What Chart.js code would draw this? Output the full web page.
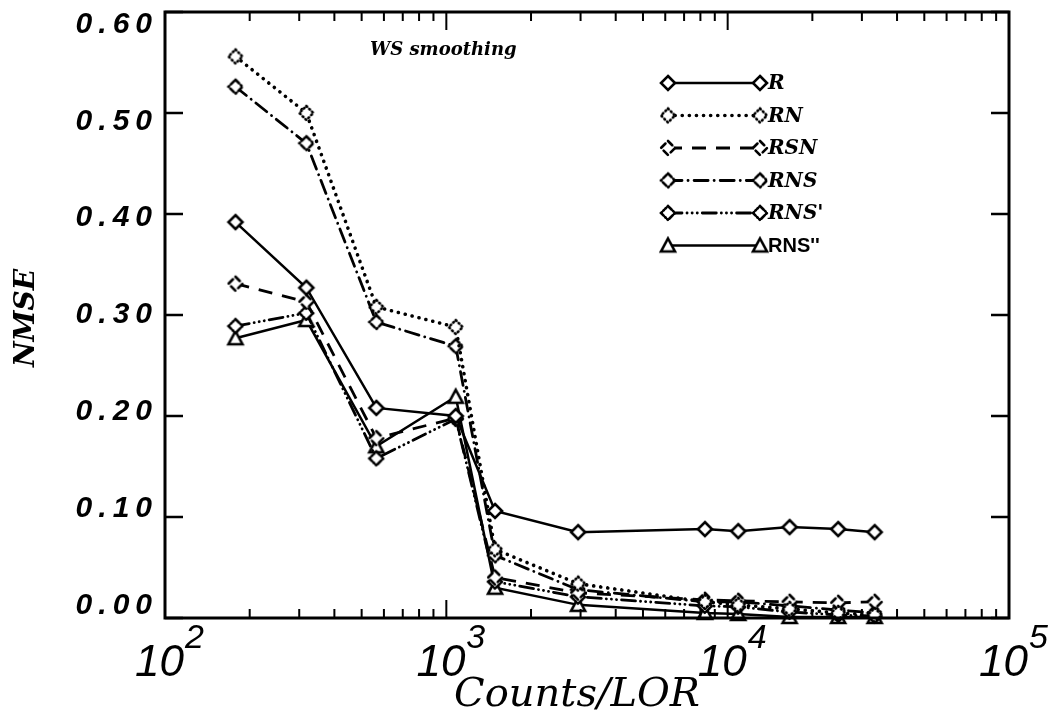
<!DOCTYPE html>
<html>
<head>
<meta charset="utf-8">
<script src="https://cdn.jsdelivr.net/npm/chart.js@4.4.1/dist/chart.umd.min.js"></script>
<style>
  html, body { margin: 0; padding: 0; background: #ffffff; }
  #wrap { width: 1050px; height: 720px; }
</style>
</head>
<body>
<div id="wrap"><canvas id="grafico" width="1050" height="720"></canvas></div>
<script>
// valores
const counts = [178, 318, 564, 1080, 1490, 2940, 8300, 10900, 16600, 24700, 33300];
const nmseR = [0.392, 0.327, 0.208, 0.200, 0.106, 0.085, 0.088, 0.086, 0.090, 0.088, 0.085];
const nmseRN = [0.556, 0.500, 0.308, 0.288, 0.068, 0.034, 0.016, 0.013, 0.009, 0.005, 0.003];
const nmseRSN = [0.331, 0.313, 0.178, 0.198, 0.040, 0.025, 0.018, 0.017, 0.016, 0.015, 0.016];
const nmseRNS = [0.526, 0.470, 0.293, 0.269, 0.062, 0.028, 0.016, 0.016, 0.012, 0.008, 0.005];
const nmseRNSp = [0.289, 0.302, 0.158, 0.197, 0.036, 0.021, 0.012, 0.011, 0.006, 0.003, 0.002];
const nmseRNSpp = [0.277, 0.295, 0.170, 0.219, 0.030, 0.013, 0.005, 0.004, 0.001, 0.001, 0.001];

const serieNames = ['R', 'RN', 'RSN', 'RNS', "RNS'", "RNS''"];
const yTicks = [0, 0.1, 0.2, 0.3, 0.4, 0.5, 0.6];
const yTickLabels = ['0.00', '0.10', '0.20', '0.30', '0.40', '0.50', '0.60'];
const xTickExps = [2, 3, 4, 5];

// marcador com o mesmo tracejado da linha
function marcador(forma, dash) {
  const c = document.createElement('canvas');
  c.width = 20; c.height = 20;
  const g = c.getContext('2d');
  g.lineWidth = 2.6;
  g.setLineDash(dash);
  g.lineCap = 'round';
  g.beginPath();
  if (forma === 'tri') {
    g.moveTo(10, 3); g.lineTo(17, 16); g.lineTo(3, 16);
  } else {
    g.moveTo(10, 3); g.lineTo(17, 10); g.lineTo(10, 17); g.lineTo(3, 10);
  }
  g.closePath();
  g.fillStyle = '#ffffff';
  g.fill();
  g.strokeStyle = '#000000';
  g.stroke();
  return c;
}

const estilos = [
  { data: nmseR, dash: [], width: 2.5, cap: 'butt', mk: marcador('dia', []) },
  { data: nmseRN, dash: [0.1, 7], width: 3.6, cap: 'round', mk: marcador('dia', [1, 3]) },
  { data: nmseRSN, dash: [14, 10], width: 2.8, cap: 'butt', mk: marcador('dia', [6, 4]) },
  { data: nmseRNS, dash: [14, 6, 0.1, 6], width: 2.8, cap: 'round', mk: marcador('dia', [5, 2.5, 1, 2.5]) },
  { data: nmseRNSp, dash: [14, 5, 0.1, 5, 0.1, 5, 0.1, 5], width: 2.8, cap: 'round', mk: marcador('dia', [5, 2, 1, 2, 1, 2]) },
  { data: nmseRNSpp, dash: [], width: 2.5, cap: 'butt', mk: marcador('tri', []) }
];

const datasets = estilos.map(function (s, i) {
  return {
    label: serieNames[i],
    data: counts.map(function (c, k) { return { x: c, y: s.data[k] }; }),
    borderColor: '#000000',
    borderWidth: s.width,
    borderDash: s.dash,
    borderCapStyle: s.cap,
    pointStyle: s.mk,
    pointRadius: 7,
    pointHoverRadius: 7,
    fill: false,
    tension: 0,
    clip: false
  };
});

// eixos, textos e legenda desenhados a mao (estilo IDL)
const desenhoIDL = {
  id: 'desenhoIDL',
  afterDraw(chart) {
    const ctx = chart.ctx;
    const a = chart.chartArea;
    const sx = chart.scales.x;
    const sy = chart.scales.y;
    ctx.save();
    ctx.strokeStyle = '#000';
    ctx.fillStyle = '#000';

    // caixa
    ctx.lineWidth = 3;
    ctx.strokeRect(a.left, a.top, a.right - a.left, a.bottom - a.top);

    // ticks x (log)
    ctx.lineWidth = 2;
    ctx.beginPath();
    for (let e = 2; e <= 4; e++) {
      for (let m = 1; m <= 9; m++) {
        const px = sx.getPixelForValue(m * Math.pow(10, e));
        const len = m === 1 ? 18 : 9;
        ctx.moveTo(px, a.bottom); ctx.lineTo(px, a.bottom - len);
        ctx.moveTo(px, a.top); ctx.lineTo(px, a.top + len);
      }
    }
    ctx.stroke();

    // ticks y
    ctx.lineWidth = 2.5;
    ctx.beginPath();
    yTicks.forEach(function (v) {
      const py = sy.getPixelForValue(v);
      ctx.moveTo(a.left, py); ctx.lineTo(a.left + 18, py);
      ctx.moveTo(a.right, py); ctx.lineTo(a.right - 18, py);
    });
    ctx.stroke();

    // rotulos y
    ctx.font = 'italic bold 30px "Liberation Sans"';
    ctx.textAlign = 'right';
    ctx.textBaseline = 'middle';
    ctx.letterSpacing = '6px';
    yTicks.forEach(function (v, i) {
      const py = sy.getPixelForValue(v) + (v - 0.3) * 42;
      ctx.fillText(yTickLabels[i], 158, py);
    });
    ctx.letterSpacing = '0px';

    // rotulos x: 10 com expoente
    ctx.textBaseline = 'alphabetic';
    ctx.textAlign = 'left';
    xTickExps.forEach(function (e) {
      const px = sx.getPixelForValue(Math.pow(10, e));
      ctx.font = 'italic 44px "Liberation Sans"';
      const w1 = ctx.measureText('10').width;
      ctx.font = 'italic 34px "Liberation Sans"';
      const w2 = ctx.measureText(String(e)).width;
      const x0 = px - (w1 + w2) / 2 + 4;
      ctx.font = 'italic 44px "Liberation Sans"';
      ctx.fillText('10', x0, 676);
      ctx.font = 'italic 34px "Liberation Sans"';
      ctx.fillText(String(e), x0 + w1 + 1, 648);
    });

    // titulos dos eixos
    ctx.textAlign = 'center';
    ctx.font = 'italic 40px "DejaVu Serif"';
    ctx.fillText('Counts/LOR', (a.left + a.right) / 2 - 10, 706);

    ctx.save();
    ctx.translate(34, (a.top + a.bottom) / 2 + 3);
    ctx.rotate(-Math.PI / 2);
    ctx.font = 'italic bold 28px "DejaVu Serif"';
    ctx.fillText('NMSE', 0, 0);
    ctx.restore();

    // anotacao
    ctx.textAlign = 'left';
    ctx.font = 'italic bold 18px "DejaVu Serif"';
    ctx.fillText('WS smoothing', 370, 55);

    // legenda
    const x1 = 668, x2 = 760;
    estilos.forEach(function (s, i) {
      const y = 83 + i * 32.5;
      ctx.lineWidth = s.width;
      ctx.setLineDash(s.dash);
      ctx.lineCap = s.cap;
      ctx.beginPath();
      ctx.moveTo(x1, y); ctx.lineTo(x2, y);
      ctx.stroke();
      ctx.setLineDash([]);
      ctx.lineCap = 'butt';
      ctx.drawImage(s.mk, x1 - 10, y - 10);
      ctx.drawImage(s.mk, x2 - 10, y - 10);
      ctx.textBaseline = 'middle';
      if (i === 5) {
        ctx.font = 'bold 20px "Liberation Sans"';
      } else {
        ctx.font = 'italic bold 20px "DejaVu Serif"';
      }
      ctx.fillText(serieNames[i], x2 + 8, y + 1);
    });

    ctx.restore();
  }
};

const canvasGrafico = document.getElementById('grafico').getContext('2d');

const grafico = new Chart(canvasGrafico, {
  type: 'line',
  data: { datasets: datasets },
  options: {
    responsive: false,
    animation: false,
    layout: { padding: { left: 165, right: 41, top: 12, bottom: 102 } },
    scales: {
      x: { type: 'logarithmic', min: 100, max: 100000, display: false },
      y: { type: 'linear', min: 0, max: 0.6, display: false }
    },
    plugins: {
      legend: { display: false },
      tooltip: { enabled: false }
    }
  },
  plugins: [desenhoIDL]
});
</script>
</body>
</html>
